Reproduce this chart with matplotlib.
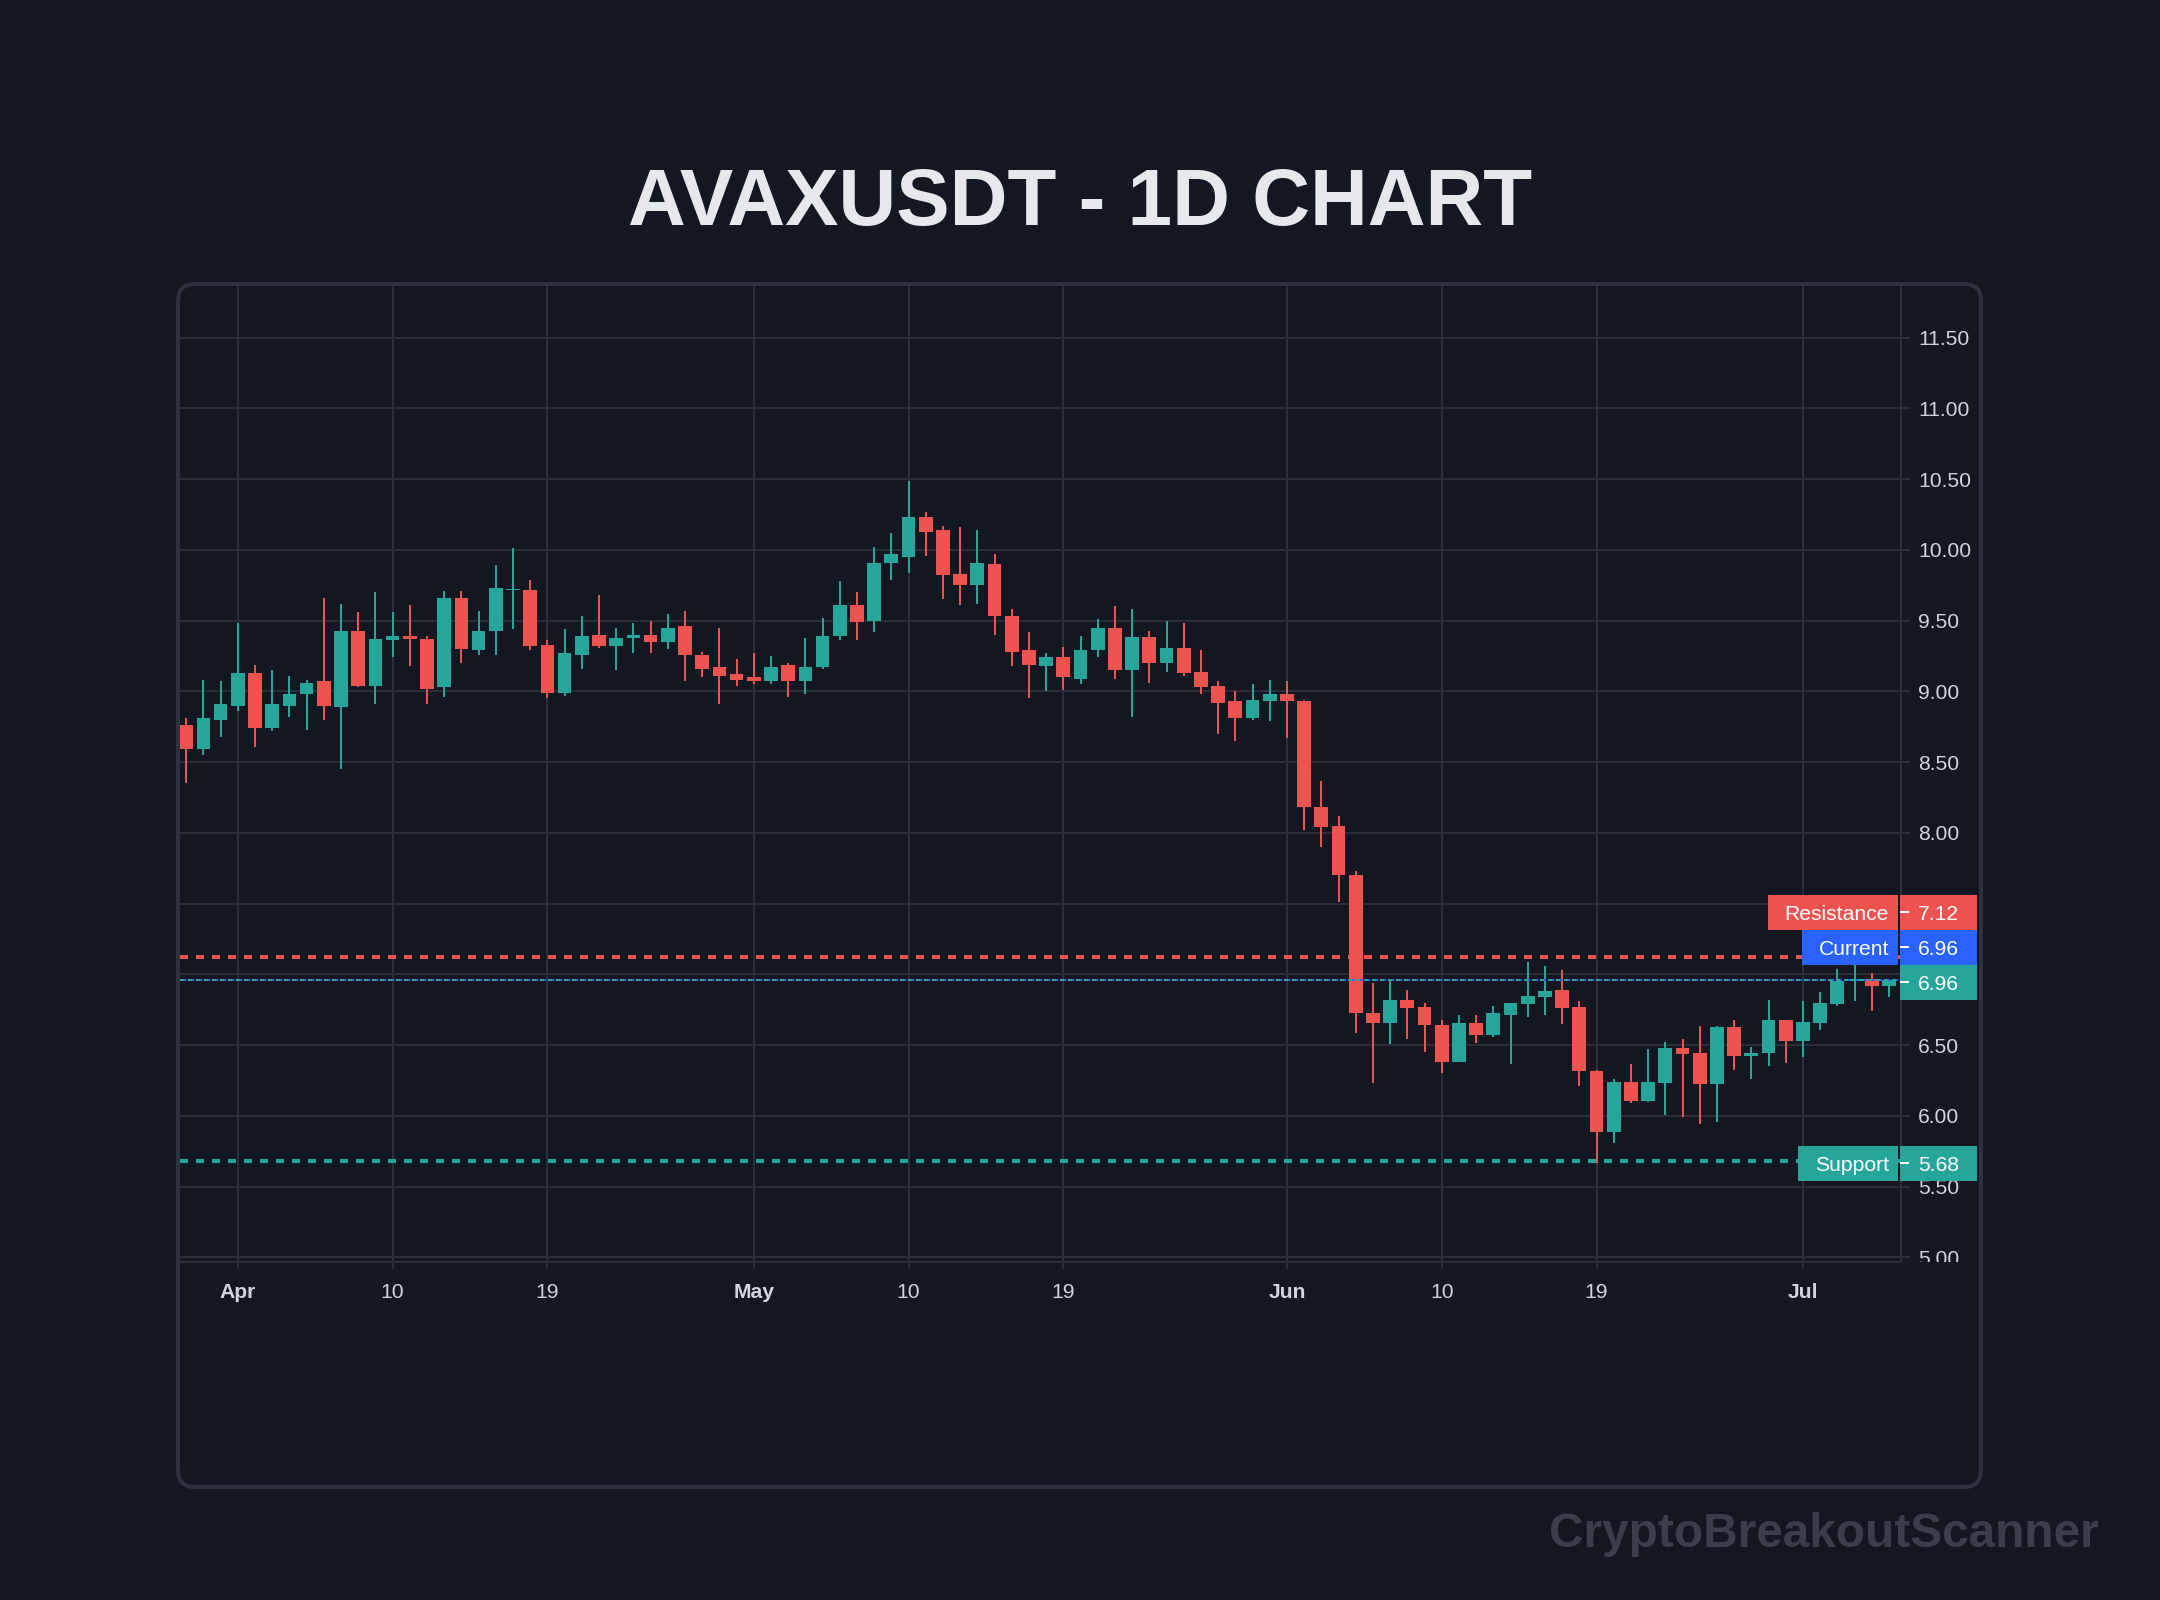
import matplotlib

matplotlib.use("Agg")
import matplotlib.dates as mdates
import matplotlib.pyplot as plt
import matplotlib.transforms as mtransforms
import numpy as np
import pandas as pd
from matplotlib.lines import Line2D
from matplotlib.patches import FancyBboxPatch, Rectangle

# ---- data ----
title = "AVAXUSDT - 1D CHART"
watermark = "CryptoBreakoutScanner"
dates = pd.date_range("2025-03-29", periods=100, freq="D")
opens = [
    8.76, 8.59, 8.80, 8.90, 9.13, 8.74, 8.90, 8.98, 9.07, 8.89,
    9.43, 9.04, 9.36, 9.39, 9.37, 9.03, 9.66, 9.29, 9.43, 9.715,
    9.72, 9.33, 8.99, 9.26, 9.40, 9.32, 9.38, 9.40, 9.35, 9.46,
    9.26, 9.17, 9.12, 9.10, 9.075, 9.19, 9.07, 9.17, 9.39, 9.61,
    9.50, 9.905, 9.95, 10.23, 10.14, 9.83, 9.75, 9.90, 9.53, 9.295,
    9.18, 9.24, 9.09, 9.29, 9.45, 9.15, 9.385, 9.20, 9.31, 9.14,
    9.04, 8.93, 8.815, 8.93, 8.98, 8.935, 8.18, 8.05, 7.70, 6.73,
    6.66, 6.82, 6.77, 6.64, 6.38, 6.655, 6.57, 6.71, 6.79, 6.84,
    6.89, 6.77, 6.32, 5.885, 6.24, 6.105, 6.23, 6.48, 6.445, 6.225,
    6.63, 6.425, 6.445, 6.68, 6.53, 6.655, 6.79, 6.95, 6.97, 6.92,
]
highs = [
    8.81, 9.08, 9.07, 9.48, 9.19, 9.15, 9.11, 9.08, 9.66, 9.62,
    9.56, 9.70, 9.56, 9.61, 9.39, 9.71, 9.71, 9.57, 9.89, 10.01,
    9.79, 9.36, 9.44, 9.53, 9.68, 9.45, 9.48, 9.50, 9.55, 9.57,
    9.28, 9.45, 9.23, 9.27, 9.25, 9.20, 9.38, 9.52, 9.78, 9.70,
    10.02, 10.12, 10.49, 10.27, 10.17, 10.16, 10.14, 9.97, 9.58, 9.42,
    9.27, 9.315, 9.39, 9.51, 9.60, 9.58, 9.43, 9.50, 9.48, 9.29,
    9.07, 9.00, 9.05, 9.08, 9.07, 8.94, 8.37, 8.12, 7.73, 6.94,
    6.96, 6.89, 6.80, 6.68, 6.71, 6.71, 6.78, 6.80, 7.085, 7.06,
    7.03, 6.81, 6.325, 6.26, 6.37, 6.47, 6.52, 6.545, 6.635, 6.635,
    6.68, 6.49, 6.82, 6.68, 6.81, 6.875, 7.035, 7.12, 7.01, 6.97,
]
lows = [
    8.35, 8.55, 8.68, 8.86, 8.61, 8.72, 8.82, 8.73, 8.80, 8.45,
    9.03, 8.91, 9.24, 9.18, 8.91, 8.96, 9.20, 9.26, 9.26, 9.44,
    9.29, 8.95, 8.97, 9.16, 9.31, 9.15, 9.27, 9.27, 9.30, 9.07,
    9.10, 8.91, 9.04, 9.05, 9.05, 8.96, 8.98, 9.16, 9.36, 9.36,
    9.42, 9.79, 9.84, 9.96, 9.65, 9.61, 9.62, 9.40, 9.18, 8.95,
    9.00, 9.01, 9.05, 9.24, 9.09, 8.82, 9.06, 9.14, 9.11, 8.98,
    8.70, 8.65, 8.80, 8.79, 8.67, 8.02, 7.90, 7.515, 6.585, 6.23,
    6.51, 6.54, 6.45, 6.30, 6.38, 6.515, 6.56, 6.37, 6.70, 6.71,
    6.65, 6.21, 5.67, 5.805, 6.09, 6.10, 6.005, 5.99, 5.94, 5.955,
    6.325, 6.26, 6.35, 6.375, 6.415, 6.61, 6.78, 6.81, 6.74, 6.84,
]
closes = [
    8.59, 8.81, 8.91, 9.13, 8.74, 8.91, 8.98, 9.06, 8.90, 9.43,
    9.04, 9.37, 9.39, 9.37, 9.02, 9.66, 9.30, 9.43, 9.73, 9.72,
    9.32, 8.99, 9.27, 9.39, 9.32, 9.38, 9.40, 9.35, 9.45, 9.26,
    9.16, 9.11, 9.08, 9.07, 9.175, 9.07, 9.175, 9.39, 9.61, 9.49,
    9.91, 9.97, 10.23, 10.13, 9.82, 9.75, 9.91, 9.53, 9.28, 9.19,
    9.24, 9.10, 9.29, 9.45, 9.15, 9.385, 9.20, 9.31, 9.13, 9.03,
    8.92, 8.815, 8.94, 8.98, 8.93, 8.18, 8.04, 7.70, 6.73, 6.66,
    6.82, 6.76, 6.64, 6.38, 6.655, 6.57, 6.725, 6.80, 6.85, 6.88,
    6.76, 6.315, 5.885, 6.24, 6.105, 6.24, 6.48, 6.44, 6.225, 6.63,
    6.425, 6.445, 6.68, 6.53, 6.665, 6.80, 6.95, 6.97, 6.92, 6.96,
]
resistance = 7.12
support = 5.68
current = 6.96
tick_dates = pd.to_datetime([
    "2025-04-01", "2025-04-10", "2025-04-19", "2025-05-01", "2025-05-10",
    "2025-05-19", "2025-06-01", "2025-06-10", "2025-06-19", "2025-07-01",
])
tick_labels = ["Apr", "10", "19", "May", "10", "19", "Jun", "10", "19", "Jul"]
price_ticks = np.arange(5.0, 11.51, 0.5)

# ---- style / layout (pixels of the 2160x1600 output) ----
W, H, DPI = 2160, 1600, 200
PT = 72 / DPI  # one output pixel in points
BG = "#131722"
GRID = "#2a2e39"
BORDER = "#2e323e"
TEXT = "#d1d4dc"
UP = "#26a69a"
DOWN = "#ef5350"
BLUE = "#2962ff"
FS = 7.6
CAP_HALF = 0.716 * FS / PT / 2  # half cap height in pixels

PLOT_L, PLOT_R, PLOT_T, PLOT_B = 180, 1901, 286, 1261.5
SCALE_R = 1979
TAG_H = 35

plt.rcParams["font.family"] = ["Liberation Sans", "DejaVu Sans"]

fig = plt.figure(figsize=(W / DPI, H / DPI), dpi=DPI, facecolor=BG)
ax = fig.add_axes([PLOT_L / W, (H - PLOT_B) / H, (PLOT_R - PLOT_L) / W, (PLOT_B - PLOT_T) / H])
ax.set_facecolor(BG)

x = mdates.date2num(dates)
o, h, l, c = (np.asarray(a, dtype=float) for a in (opens, highs, lows, closes))
colors = np.where(c >= o, UP, DOWN)

ax.vlines(x, l, h, colors=colors, lw=2 * PT, zorder=3)
ax.bar(x, np.maximum(np.abs(c - o), 0.01), bottom=np.minimum(o, c), width=0.8,
       color=colors, linewidth=0, zorder=4)

ax.axhline(resistance, color=DOWN, lw=4 * PT, dashes=(2, 2), zorder=5)
ax.axhline(support, color=UP, lw=4 * PT, dashes=(2, 2), zorder=5)
ax.axhline(current, color=BLUE, lw=2 * PT, dashes=(1, 1), zorder=5)
ax.axhline(c[-1], color=UP, lw=2 * PT, dashes=(2, 2), zorder=6)

ax.set_xlim(x[0] - 0.36, x[-1] + 0.70)
ax.set_ylim(4.971, 11.865)

ax.set_xticks(mdates.date2num(tick_dates))
ax.set_xticklabels(tick_labels)
for lbl, txt in zip(ax.get_xticklabels(), tick_labels):
    if not txt.isdigit():
        lbl.set_fontweight("bold")
ax.set_yticks(price_ticks)
ax.yaxis.tick_right()
ax.tick_params(axis="x", length=7 * PT, width=2 * PT, color=GRID, labelcolor=TEXT,
               labelsize=FS, pad=14 * PT)
ax.tick_params(axis="y", length=9 * PT, width=2 * PT, color=GRID, labelright=False,
               labelleft=False)
ax.grid(True, color=GRID, lw=2 * PT)
ax.set_axisbelow(True)
for side in ("top", "left"):
    ax.spines[side].set_visible(False)
for side in ("bottom", "right"):
    ax.spines[side].set_color(GRID)
    ax.spines[side].set_linewidth(2 * PT)

# price tags on the right, stacked so they don't overlap
ident = mtransforms.IdentityTransform()
renderer = fig.canvas.get_renderer()
tags = [
    (support, "Support", UP),
    (c[-1], None, UP),
    (current, "Current", BLUE),
    (resistance, "Resistance", DOWN),
]
tag_y = []
prev = -np.inf
for price, name, col in sorted(tags, key=lambda t: t[0]):
    y = max(ax.transData.transform((x[0], price))[1] - 2, prev + TAG_H)
    prev = y
    tag_y.append(y)
    fig.add_artist(Rectangle((PLOT_R - 1, y - TAG_H / 2), SCALE_R - PLOT_R - 1, TAG_H,
                             transform=ident, facecolor=col, edgecolor="none", zorder=10))
    fig.add_artist(Line2D([PLOT_R, PLOT_R + 7], [y, y], transform=ident, color="white",
                          lw=2 * PT, zorder=11))
    fig.text(PLOT_R + 17, y - CAP_HALF, f"{price:.2f}", transform=ident, ha="left",
             va="baseline", color="white", fontsize=FS, zorder=12)
    if name:
        t = fig.text(PLOT_R - 12, y - CAP_HALF, name, transform=ident, ha="right",
                     va="baseline", color="white", fontsize=FS, zorder=12)
        bb = t.get_window_extent(renderer)
        fig.add_artist(Rectangle((bb.x0 - 17, y - TAG_H / 2), PLOT_R - 3 - (bb.x0 - 17), TAG_H,
                                 transform=ident, facecolor=col, edgecolor="none", zorder=10))

# price scale labels, clipped to the pane; the ones hidden under tags are skipped
pax = fig.add_axes([PLOT_R / W, (H - PLOT_B) / H, (SCALE_R - PLOT_R) / W, (PLOT_B - PLOT_T) / H])
pax.set_xlim(0, SCALE_R - PLOT_R)
pax.set_ylim(ax.get_ylim())
pax.axis("off")
shift = pax.transData + mtransforms.ScaledTranslation(0, -CAP_HALF / DPI, fig.dpi_scale_trans)
for v in price_ticks:
    vy = ax.transData.transform((x[0], v))[1]
    if any(abs(vy - ty) < TAG_H / 2 for ty in tag_y):
        continue
    pax.text(17, v, f"{v:.2f}", transform=shift, ha="left", va="baseline", color=TEXT,
             fontsize=FS, clip_box=pax.bbox, clip_on=True)

# rounded panel frame
fig.add_artist(FancyBboxPatch((178, H - 1487), 1981 - 178, 1487 - 284,
                              boxstyle="round,pad=0,rounding_size=17", transform=ident,
                              fill=False, edgecolor=BORDER, lw=4 * PT, zorder=9))

fig.text(0.5, 1 - 225 / H, title, ha="center", va="baseline", color="#e6e8ec",
         fontsize=28.8, fontweight="bold")
fig.text(2099 / W, 1 - 1547 / H, watermark, ha="right", va="baseline", color="#3a3e4a",
         fontsize=17.2, fontweight="bold")

fig.savefig("out.png", dpi=DPI, facecolor=BG)
plt.close(fig)
